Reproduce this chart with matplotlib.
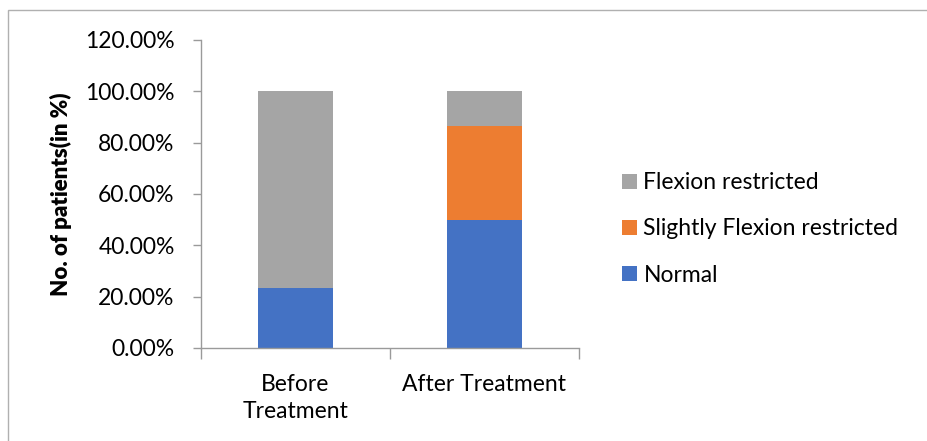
import matplotlib.pyplot as plt
from matplotlib.patches import Rectangle
from matplotlib.ticker import FuncFormatter

categories = ["Before\nTreatment", "After Treatment"]
normal = [23.33, 50.0]
slightly = [0.0, 36.67]
restricted = [76.67, 13.33]

blue = "#4472C4"
orange = "#ED7D31"
grey = "#A5A5A5"

plt.rcParams['font.family'] = ['Lato', 'DejaVu Sans']

fig = plt.figure(figsize=(9.28, 4.41), dpi=100)
ax = fig.add_axes([201 / 928, 1 - 348 / 441, 378 / 928, 308 / 441])

x = [0, 1]
bottom2 = [n + s for n, s in zip(normal, slightly)]
b1 = ax.bar(x, normal, width=0.4, color=blue, label="Normal")
b2 = ax.bar(x, slightly, width=0.4, bottom=normal, color=orange,
            label="Slightly Flexion restricted")
b3 = ax.bar(x, restricted, width=0.4, bottom=bottom2, color=grey,
            label="Flexion restricted")

ax.set_xlim(-0.5, 1.5)
ax.set_ylim(0, 120)
ax.set_yticks(range(0, 121, 20))
ax.yaxis.set_major_formatter(FuncFormatter(lambda v, p: f"{v:.2f}%"))
ax.set_xticks(x)
ax.set_xticklabels(categories, linespacing=1.35)
ax.set_xticks([-0.5, 0.5, 1.5], minor=True)
ax.tick_params(axis='x', which='major', length=0, pad=19, labelsize=16.5)
ax.tick_params(axis='x', which='minor', length=8, color='#9a9a9a', width=1)
ax.tick_params(axis='y', length=6, color='#9a9a9a', width=1, labelsize=16.5, pad=13)

for s in ['top', 'right']:
    ax.spines[s].set_visible(False)
for s in ['left', 'bottom']:
    ax.spines[s].set_color('#9a9a9a')
    ax.spines[s].set_linewidth(1)

ax.set_ylabel("No. of patients(in %)", fontsize=16, fontweight='heavy', labelpad=9)

ax.legend(handles=[b3, b2, b1], loc='center left',
          bbox_to_anchor=(601 / 928, 1 - 229 / 441),
          bbox_transform=fig.transFigure, frameon=False, fontsize=16.5,
          handlelength=0.65, handleheight=0.65, handletextpad=0.3, labelspacing=1.1)

fig.patches.append(Rectangle((8 / 928, -0.1), 1.1, (431 / 441) + 0.1, transform=fig.transFigure,
                             fill=False, edgecolor='#b0b0b0', linewidth=1))

fig.savefig("out.png", dpi=100)
